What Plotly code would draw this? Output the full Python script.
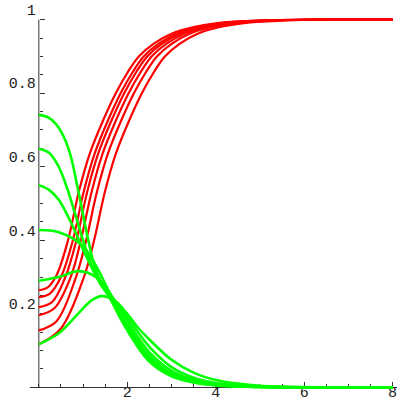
import plotly.graph_objects as go

# ---- red curves (x, y) ----
r1_x = [0, 0.2, 0.4, 0.66, 0.9, 1.15, 1.45, 1.74, 2.0, 2.26, 2.6, 3.0, 3.5, 4.0, 5.0, 6.0, 8.0]
r1_y = [0.264, 0.272, 0.305, 0.40, 0.53, 0.635, 0.725, 0.80, 0.855, 0.90, 0.935, 0.962, 0.98, 0.99, 0.998, 1.0, 1.0]
r2_x = [0, 0.25, 0.5, 0.77, 1.01, 1.26, 1.56, 1.85, 2.11, 2.37, 2.71, 3.11, 3.61, 4.11, 5.1, 6.1, 8.0]
r2_y = [0.245, 0.255, 0.30, 0.40, 0.53, 0.635, 0.725, 0.80, 0.855, 0.90, 0.935, 0.962, 0.98, 0.99, 0.998, 1.0, 1.0]
r3_x = [0, 0.3, 0.6, 0.85, 1.09, 1.34, 1.64, 1.93, 2.19, 2.45, 2.79, 3.19, 3.69, 4.19, 5.2, 6.2, 8.0]
r3_y = [0.218, 0.232, 0.30, 0.40, 0.53, 0.635, 0.725, 0.80, 0.855, 0.90, 0.935, 0.962, 0.98, 0.99, 0.998, 1.0, 1.0]
r4_x = [0, 0.35, 0.72, 0.95, 1.19, 1.44, 1.74, 2.03, 2.29, 2.55, 2.89, 3.29, 3.79, 4.29, 5.3, 6.3, 8.0]
r4_y = [0.196, 0.215, 0.30, 0.40, 0.53, 0.635, 0.725, 0.80, 0.855, 0.90, 0.935, 0.962, 0.98, 0.99, 0.998, 1.0, 1.0]
r5_x = [0, 0.4, 0.84, 1.07, 1.31, 1.56, 1.86, 2.15, 2.41, 2.67, 3.01, 3.41, 3.91, 4.41, 5.4, 6.4, 8.0]
r5_y = [0.155, 0.18, 0.30, 0.40, 0.53, 0.635, 0.725, 0.80, 0.855, 0.90, 0.935, 0.962, 0.98, 0.99, 0.998, 1.0, 1.0]
r6_x = [0, 0.5, 1.02, 1.25, 1.49, 1.74, 2.04, 2.33, 2.59, 2.85, 3.19, 3.59, 4.09, 4.59, 5.6, 6.6, 8.0]
r6_y = [0.117, 0.16, 0.30, 0.40, 0.53, 0.635, 0.725, 0.80, 0.855, 0.90, 0.935, 0.962, 0.98, 0.99, 0.998, 1.0, 1.0]

# ---- green curves (x, y) ----
g1_x = [0, 0.23, 0.45, 0.68, 0.9, 1.1, 1.3, 1.6, 2.0, 2.5, 3.0, 3.5, 4.0, 5.0, 6.0, 8.0]
g1_y = [0.741, 0.733, 0.706, 0.646, 0.53, 0.41, 0.315, 0.245, 0.155, 0.07, 0.03, 0.013, 0.005, 0.0008, 0.0, 0.0]
g2_x = [0, 0.23, 0.45, 0.63, 0.8, 1.0, 1.2, 1.4, 1.6, 2.0, 2.5, 3.0, 3.5, 4.0, 5.0, 6.0, 8.0]
g2_y = [0.649, 0.638, 0.60, 0.545, 0.48, 0.40, 0.33, 0.28, 0.245, 0.16, 0.077, 0.034, 0.015, 0.006, 0.001, 0.0, 0.0]
g3_x = [0, 0.23, 0.45, 0.7, 1.0, 1.2, 1.4, 1.6, 2.0, 2.5, 3.0, 3.5, 4.0, 5.0, 6.0, 8.0]
g3_y = [0.55, 0.537, 0.51, 0.455, 0.375, 0.325, 0.28, 0.247, 0.168, 0.085, 0.038, 0.017, 0.007, 0.001, 0.0, 0.0]
g4_x = [0, 0.45, 0.97, 1.31, 1.6, 2.0, 2.5, 3.0, 3.5, 4.0, 5.0, 6.0, 8.0]
g4_y = [0.428, 0.422, 0.387, 0.327, 0.258, 0.18, 0.095, 0.045, 0.02, 0.009, 0.0015, 0.0, 0.0]
g5_x = [0, 0.45, 0.9, 1.29, 1.63, 2.0, 2.5, 3.0, 3.5, 4.0, 5.0, 6.0, 8.0]
g5_y = [0.29, 0.30, 0.316, 0.30, 0.25, 0.19, 0.11, 0.055, 0.026, 0.012, 0.002, 0.0003, 0.0]
g6_x = [0, 0.45, 0.9, 1.2, 1.42, 1.7, 2.0, 2.26, 2.5, 3.0, 3.5, 4.0, 4.5, 5.0, 6.0, 8.0]
g6_y = [0.117, 0.147, 0.202, 0.237, 0.248, 0.237, 0.2, 0.16, 0.13, 0.075, 0.04, 0.02, 0.01, 0.004, 0.0008, 0.0]

red_curves = [(r1_x, r1_y), (r2_x, r2_y), (r3_x, r3_y), (r4_x, r4_y), (r5_x, r5_y), (r6_x, r6_y)]
green_curves = [(g1_x, g1_y), (g2_x, g2_y), (g3_x, g3_y), (g4_x, g4_y), (g5_x, g5_y), (g6_x, g6_y)]

x_tick_vals = [2, 4, 6, 8]
x_tick_text = ["2", "4", "6", "8"]
y_tick_vals = [0.2, 0.4, 0.6, 0.8, 1.0]
y_tick_text = ["0.2", "0.4", "0.6", "0.8", "1"]

RED = "#ff0000"
GREEN = "#00ff00"
AXIS = "#333333"

fig = go.Figure()
for xs, ys in red_curves:
    fig.add_trace(go.Scatter(x=xs, y=ys, mode="lines",
                             line=dict(color=RED, width=2.2, shape="spline", smoothing=1.0),
                             hoverinfo="skip", showlegend=False))
for xs, ys in green_curves:
    fig.add_trace(go.Scatter(x=xs, y=ys, mode="lines",
                             line=dict(color=GREEN, width=2.6, shape="spline", smoothing=1.0),
                             hoverinfo="skip", showlegend=False))

XMIN, XMAX = -0.2, 8.1
YMIN, YMAX = -0.01, 1.01
tick_font = dict(family="Liberation Mono, Courier New, monospace", size=15, color="#222222")

fig.update_layout(
    width=409, height=409,
    margin=dict(l=30, r=12, t=16, b=18, autoexpand=False),
    paper_bgcolor="white", plot_bgcolor="white",
    showlegend=False,
    xaxis=dict(range=[XMIN, XMAX], showgrid=False, zeroline=False, automargin=False,
               anchor="free", position=(0 - YMIN) / (YMAX - YMIN),
               showline=True, linecolor=AXIS, linewidth=1, layer="below traces",
               tickmode="array", tickvals=x_tick_vals, ticktext=x_tick_text,
               ticks="inside", ticklen=5, tickcolor=AXIS, tickwidth=1,
               tickfont=tick_font, ticklabelstandoff=-9, ticklabeloverflow="allow",
               minor=dict(dtick=0.5, tick0=0, ticks="inside", ticklen=3, tickcolor=AXIS, tickwidth=1)),
    yaxis=dict(range=[YMIN, YMAX], showgrid=False, zeroline=False, automargin=False,
               anchor="free", position=(0 - XMIN) / (XMAX - XMIN),
               showline=False, layer="below traces",
               tickmode="array", tickvals=y_tick_vals, ticktext=y_tick_text,
               ticks="inside", ticklen=5, tickcolor=AXIS, tickwidth=1,
               tickfont=tick_font, ticklabelshift=-10, ticklabelstandoff=3,
               ticklabeloverflow="allow",
               minor=dict(dtick=0.05, tick0=0, ticks="inside", ticklen=3, tickcolor=AXIS, tickwidth=1)),
    shapes=[dict(type="line", xref="x", yref="y", x0=0, x1=0, y0=0, y1=1,
                 line=dict(color=AXIS, width=1), layer="below")],
)

fig.write_html("out.html",
               config={"displayModeBar": False, "staticPlot": True},
               post_script="document.body.style.margin='0';document.body.style.overflow='hidden';")
